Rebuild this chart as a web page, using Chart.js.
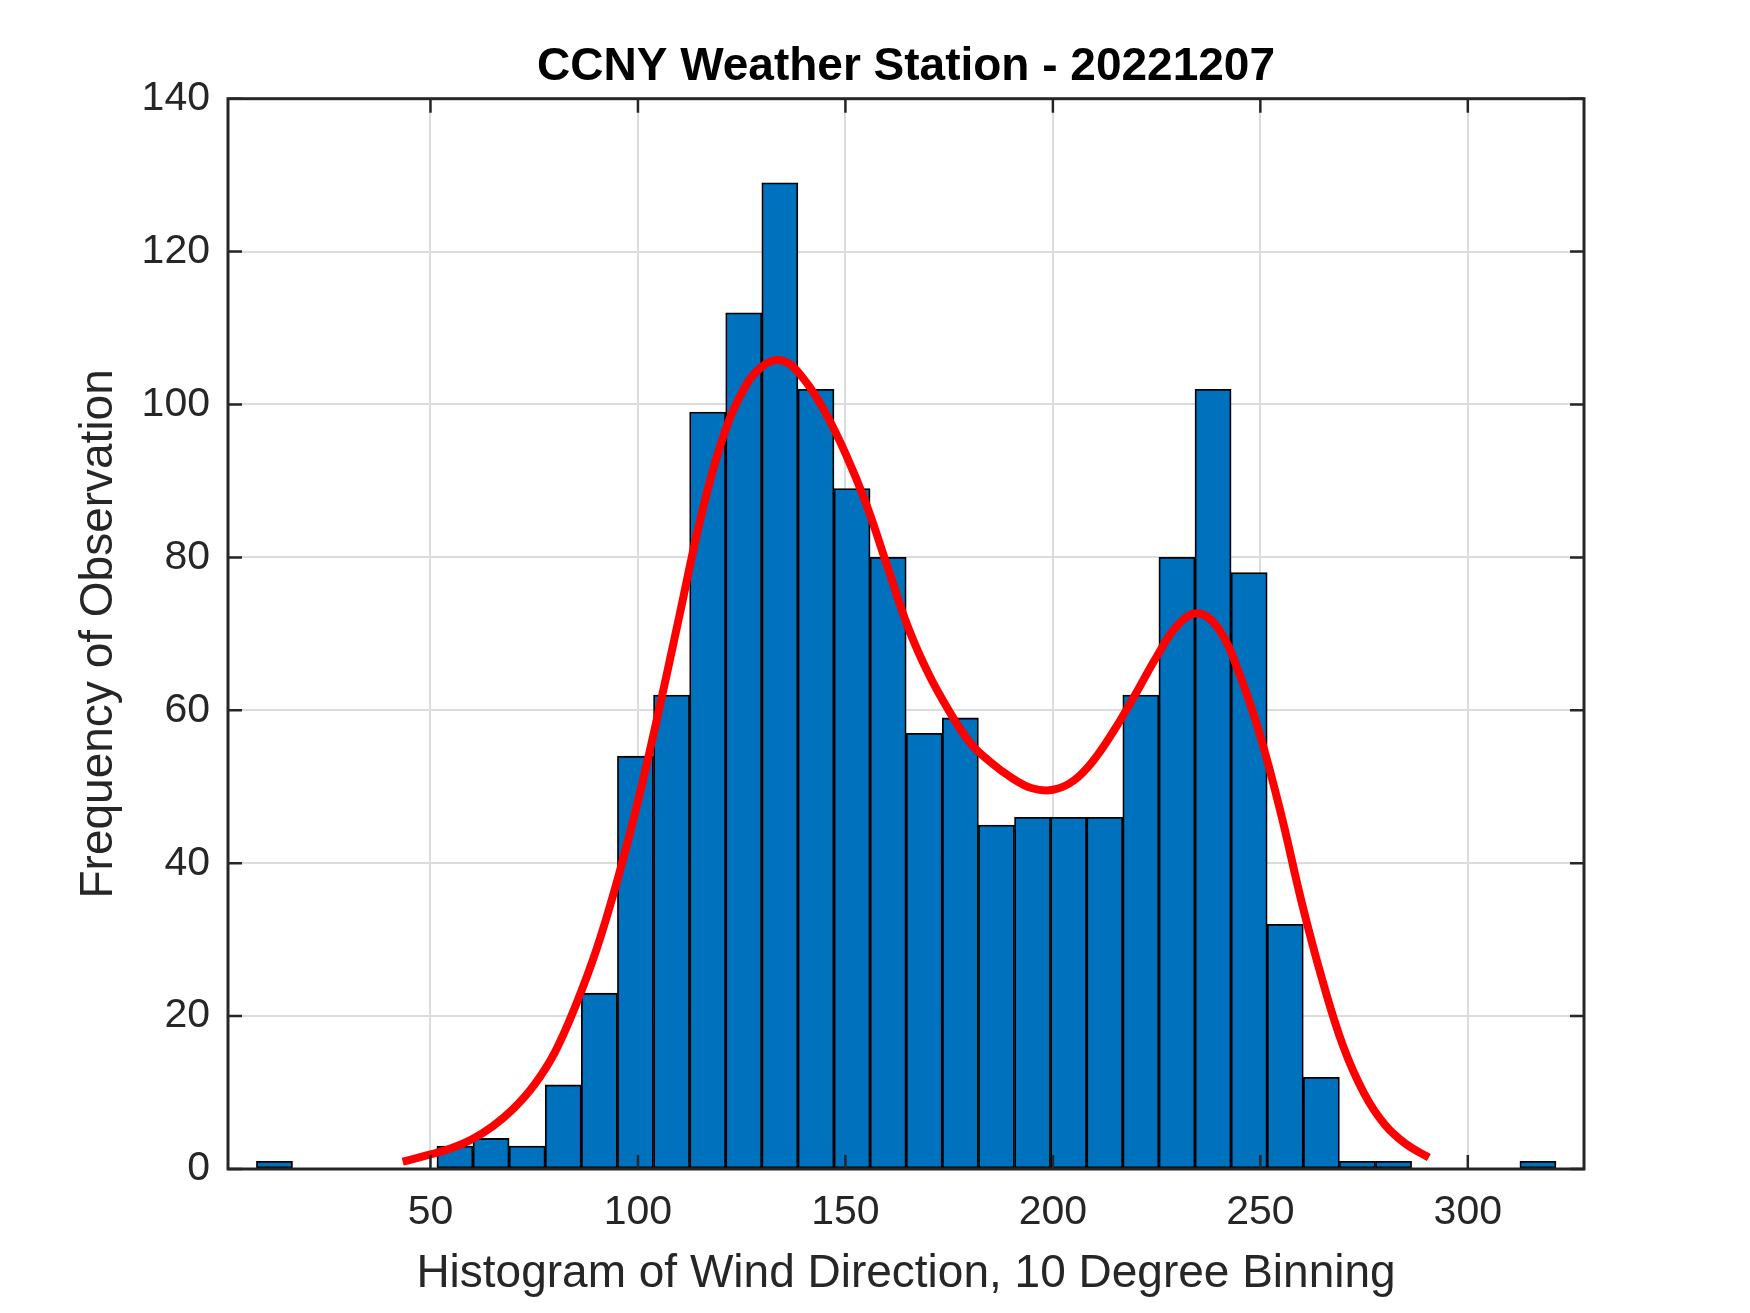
<!DOCTYPE html>
<html>
<head>
<meta charset="utf-8">
<title>CCNY Weather Station - 20221207</title>
<script src="https://cdn.jsdelivr.net/npm/chart.js@4.4.1/dist/chart.umd.min.js"></script>
<style>
  html, body { margin: 0; padding: 0; background: #fff; }
  #wrap { width: 1750px; height: 1313px; }
</style>
</head>
<body>
<div id="wrap"><canvas id="histChart" width="1750" height="1313"></canvas></div>
<script>
// histogram of wind direction (36 auto bins, ~8.7 deg wide)
const binStart = 8.05;
const binWidth = 8.7;
const binCounts = [1, 0, 0, 0, 0, 3, 4, 3, 11, 23, 54, 62, 99, 112, 129, 102, 89, 80,
                   57, 59, 45, 46, 46, 46, 62, 80, 102, 78, 32, 12, 1, 1, 0, 0, 0, 1];

// fitted curve
const fitX = [43.3, 50, 55, 60, 65, 70, 75, 80, 85, 90, 95, 100, 105, 110, 115, 120, 125, 130, 135, 140,
              145, 150, 155, 160, 165, 170, 175, 180, 185, 190, 195, 200, 205, 210, 215, 220, 225, 230, 235,
              240, 245, 250, 255, 260, 265, 270, 275, 280, 285, 290.6];
const fitY = [0.95, 1.9, 2.7, 3.9, 5.6, 7.9, 11.0, 15.3, 21.4, 28.7, 37.7, 48.1, 59.9, 72.4, 84.9, 94.9, 101.5, 105.0, 105.7, 103.3,
              99.1, 93.6, 87.0, 79.0, 71.0, 64.8, 59.9, 55.8, 53.2, 51.2, 49.8, 49.6, 50.8, 53.6, 57.6, 62.2, 67.0, 71.1, 72.7,
              70.6, 64.7, 56.6, 46.4, 34.8, 24.6, 16.0, 9.9, 5.8, 3.3, 1.5];

// axes
const xTicks = [50, 100, 150, 200, 250, 300];
const yTicks = [0, 20, 40, 60, 80, 100, 120, 140];

const axisColor = '#262626';
const fontFamily = 'Liberation Sans, Arial, Helvetica, sans-serif';

// box around the axes + inward ticks (drawn over the bars like matlab)
const boxFrame = {
  id: 'boxFrame',
  afterDatasetsDraw(chart) {
    const { ctx, chartArea: a, scales: { x, y } } = chart;
    const tl = 14;
    ctx.save();
    ctx.strokeStyle = axisColor;
    ctx.lineWidth = 2.5;
    ctx.beginPath();
    x.ticks.forEach(t => {
      const px = x.getPixelForValue(t.value);
      ctx.moveTo(px, a.bottom); ctx.lineTo(px, a.bottom - tl);
      ctx.moveTo(px, a.top); ctx.lineTo(px, a.top + tl);
    });
    y.ticks.forEach(t => {
      const py = y.getPixelForValue(t.value);
      ctx.moveTo(a.left, py); ctx.lineTo(a.left + tl, py);
      ctx.moveTo(a.right, py); ctx.lineTo(a.right - tl, py);
    });
    ctx.stroke();
    ctx.lineWidth = 3;
    ctx.strokeRect(a.left, a.top, a.right - a.left, a.bottom - a.top);
    ctx.restore();
  }
};

new Chart(document.getElementById('histChart').getContext('2d'), {
  type: 'bar',
  data: {
    datasets: [{
      type: 'line',
      label: 'Fit',
      data: fitX.map((v, i) => ({ x: v, y: fitY[i] })),
      borderColor: '#ff0000',
      borderWidth: 8,
      pointRadius: 0,
      tension: 0.4,
      fill: false,
      order: 0
    }, {
      label: 'Wind Direction',
      data: binCounts.map((c, i) => ({ x: binStart + binWidth * (i + 0.5), y: c })),
      backgroundColor: '#0072bd',
      borderColor: '#000',
      borderWidth: ctx => (ctx.raw && ctx.raw.y > 0) ? 1.8 : 0,
      borderSkipped: false,
      barPercentage: 1,
      categoryPercentage: 1,
      order: 1
    }]
  },
  options: {
    responsive: false,
    animation: false,
    devicePixelRatio: 1,
    layout: { padding: { left: 0, right: 166, top: 0, bottom: 0 } },
    plugins: {
      legend: { display: false },
      tooltip: { enabled: false },
      title: {
        display: true,
        text: 'CCNY Weather Station - 20221207',
        color: '#000',
        fullSize: false,
        font: { family: fontFamily, size: 46, weight: 'bold' },
        padding: { top: 39.9, bottom: 3.6 }
      }
    },
    scales: {
      x: {
        type: 'linear',
        min: 1.2,
        max: 328,
        offset: false,
        afterBuildTicks: s => { s.ticks = xTicks.map(v => ({ value: v })); },
        afterFit: s => { s.height = 144; },
        grid: { color: '#dcdcdc', lineWidth: 2, drawTicks: false, offset: false },
        border: { display: false },
        ticks: {
          color: axisColor,
          padding: 19.4,
          maxRotation: 0,
          font: { family: fontFamily, size: 41 }
        },
        title: {
          display: true,
          text: 'Histogram of Wind Direction, 10 Degree Binning',
          color: axisColor,
          font: { family: fontFamily, size: 46 },
          padding: { top: 0, bottom: 11.4 }
        }
      },
      y: {
        min: 0,
        max: 140,
        afterBuildTicks: s => { s.ticks = yTicks.map(v => ({ value: v })); },
        afterFit: s => { s.width = 228; },
        grid: { color: '#dcdcdc', lineWidth: 2, drawTicks: false },
        border: { display: false },
        ticks: {
          color: axisColor,
          padding: 18,
          font: { family: fontFamily, size: 41 }
        },
        title: {
          display: true,
          text: 'Frequency of Observation',
          color: axisColor,
          font: { family: fontFamily, size: 46 },
          padding: { top: 71.5, bottom: 0 }
        }
      }
    }
  },
  plugins: [boxFrame]
});
</script>
</body>
</html>
